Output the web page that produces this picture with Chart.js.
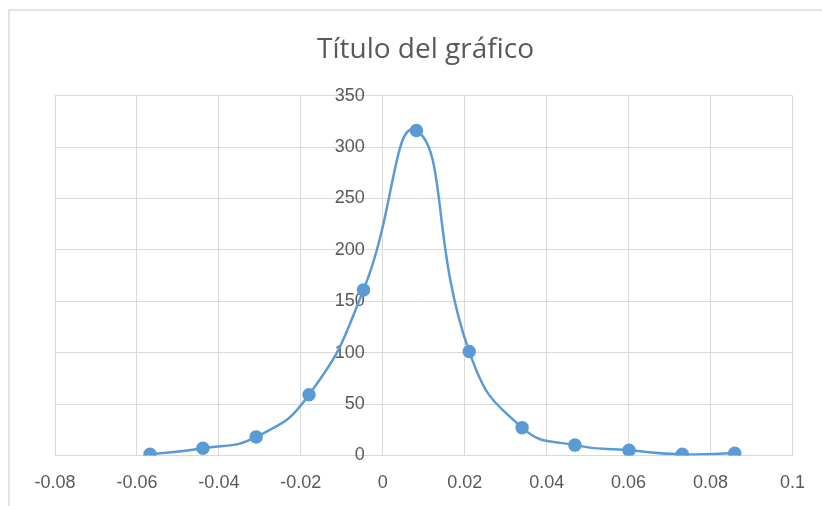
<!DOCTYPE html>
<html>
<head>
<meta charset="utf-8">
<script src="https://cdn.jsdelivr.net/npm/chart.js@4/dist/chart.umd.min.js"></script>
<style>
  html, body { margin: 0; padding: 0; background: #fff; }
  #frame { position: absolute; left: 8px; top: 9px; width: 830px; height: 520px;
           border-left: 2px solid #e4e4e4; border-top: 2px solid #e4e4e4; }
  #wrap { position: absolute; left: 0; top: 0; width: 822px; height: 506px; }
</style>
</head>
<body>
<div id="frame"></div>
<div id="wrap"><canvas id="scatterChart" width="822" height="506"></canvas></div>
<script>
// datos
var xValues = [-0.0568, -0.0439, -0.0309, -0.0180, -0.0047, 0.0082, 0.0211, 0.0340, 0.0469, 0.0601, 0.0731, 0.0859];
var yValues = [1, 7, 18, 59, 161, 316, 101, 27, 10, 5, 1, 2];
var xTickValues = [-0.08, -0.06, -0.04, -0.02, 0, 0.02, 0.04, 0.06, 0.08, 0.1];
var xTickLabels = ['-0.08', '-0.06', '-0.04', '-0.02', '0', '0.02', '0.04', '0.06', '0.08', '0.1'];
var yTickValues = [0, 50, 100, 150, 200, 250, 300, 350];

var points = xValues.map(function (x, i) { return { x: x, y: yValues[i] }; });

var ctx = document.getElementById('scatterChart').getContext('2d');

var tickFont = { family: "'Liberation Sans', Arial, sans-serif", size: 18 };
var gridColor = '#d9d9d9';

var chart = new Chart(ctx, {
    type: 'scatter',
    data: {
        datasets: [{
            label: 'Serie1',
            data: points,
            showLine: true,
            borderColor: '#5b9bd5',
            backgroundColor: '#5b9bd5',
            borderWidth: 2.5,
            pointRadius: 5.5,
            pointHoverRadius: 5.5,
            tension: 0.5
        }]
    },
    options: {
        responsive: false,
        animation: false,
        layout: {
            padding: { left: 55, right: 26, top: 0, bottom: -5 }
        },
        plugins: {
            legend: { display: false },
            tooltip: { enabled: false },
            title: {
                display: true,
                text: 'Título del gráfico',
                color: '#595959',
                font: { family: "'Open Sans', 'Noto Sans', sans-serif", size: 28, weight: 'normal' },
                padding: { top: 33, bottom: 29 }
            }
        },
        scales: {
            x: {
                type: 'linear',
                min: -0.08,
                max: 0.1,
                afterBuildTicks: function (scale) {
                    scale.ticks = xTickValues.map(function (v) { return { value: v }; });
                },
                ticks: {
                    color: '#595959',
                    font: tickFont,
                    padding: 17,
                    maxRotation: 0,
                    autoSkip: false,
                    callback: function (value, index) { return xTickLabels[index]; }
                },
                grid: { color: gridColor, drawTicks: false },
                border: { color: gridColor }
            },
            y: {
                type: 'linear',
                position: { x: 0 },
                min: 0,
                max: 350,
                afterBuildTicks: function (scale) {
                    scale.ticks = yTickValues.map(function (v) { return { value: v }; });
                },
                ticks: {
                    color: '#595959',
                    font: tickFont,
                    // con posición {x: 0} el padding no se aplica, se separa con espacios
                    callback: function (value) { return value + '\u2002\u2002'; }
                },
                grid: { color: gridColor, drawTicks: false },
                border: { color: gridColor }
            }
        }
    }
});
</script>
</body>
</html>
